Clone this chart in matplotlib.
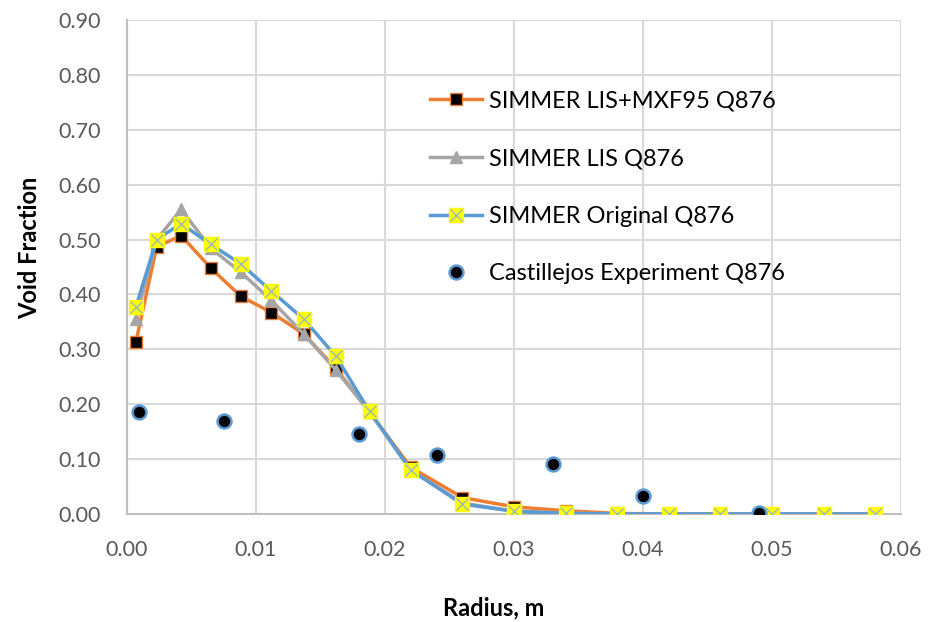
import matplotlib
matplotlib.use("Agg")
import matplotlib.pyplot as plt
from matplotlib.legend_handler import HandlerTuple
import numpy as np

plt.rcParams['font.family'] = ['Lato', 'DejaVu Sans']

# radius positions of the simulation cells
r_sim = [0.0007, 0.0023, 0.0042, 0.0065, 0.0088, 0.0112, 0.0137, 0.0162, 0.0188,
         0.022, 0.026, 0.030, 0.034, 0.038, 0.042, 0.046, 0.050, 0.054, 0.058]
lis_mxf = [0.314, 0.487, 0.507, 0.448, 0.397, 0.367, 0.328, 0.265, 0.186,
           0.085, 0.030, 0.013, 0.006, 0.001, 0.0, 0.0, 0.0, 0.0, 0.0]
lis = [0.356, 0.500, 0.555, 0.484, 0.441, 0.389, 0.328, 0.262, 0.186,
       0.080, 0.020, 0.005, 0.002, 0.0, 0.0, 0.0, 0.0, 0.0, 0.0]
original = [0.378, 0.500, 0.529, 0.491, 0.456, 0.406, 0.355, 0.287, 0.187,
            0.080, 0.018, 0.005, 0.001, 0.0, 0.0, 0.0, 0.0, 0.0, 0.0]

# experiment
r_exp = [0.0009, 0.0075, 0.0180, 0.0240, 0.0330, 0.0400, 0.0490]
exp = [0.185, 0.170, 0.146, 0.108, 0.091, 0.033, 0.002]

fig = plt.figure(figsize=(9.36, 6.22), dpi=100)
ax = fig.add_axes([127/936, 1 - 514/622, (901-127)/936, (514-20)/622])

grid_c = '#d9d9d9'
ax.set_axisbelow(True)
ax.grid(True, color=grid_c, lw=1.5)

l1, = ax.plot(r_sim, lis_mxf, color='#ED7D31', lw=2.5, marker='s', ms=8,
              mfc='black', mec='#ED7D31', mew=1, zorder=3)
l2, = ax.plot(r_sim, lis, color='#A5A5A5', lw=2.5, marker='^', ms=9,
              mfc='#A5A5A5', mec='#A5A5A5', zorder=4)
l3, = ax.plot(r_sim, original, color='#5B9BD5', lw=2.5, marker='s', ms=10,
              mfc='#FFFF00', mec='#FFFF00', zorder=5)
l3x, = ax.plot(r_sim, original, ls='none', marker='x', ms=9, mec='#8FB4C8', mew=0.9, zorder=6)
l4, = ax.plot(r_exp, exp, ls='none', marker='o', ms=10, mfc='black', mec='#5B9BD5',
              mew=1.8, zorder=7)

ax.set_xlim(0, 0.06)
ax.set_ylim(0, 0.9)
ax.set_xticks(np.arange(0, 0.061, 0.01))
ax.set_yticks(np.arange(0, 0.91, 0.1))
ax.set_xticklabels(['%.2f' % v for v in np.arange(0, 0.061, 0.01)])
ax.set_yticklabels(['%.2f' % v for v in np.arange(0, 0.91, 0.1)])
ax.tick_params(length=0, labelsize=15.5, colors='#595959')
ax.tick_params(axis='y', pad=19)
ax.tick_params(axis='x', pad=19)

for s in ['top', 'right']:
    ax.spines[s].set_visible(False)
for s in ['left', 'bottom']:
    ax.spines[s].set_color('#bfbfbf')
    ax.spines[s].set_linewidth(1.5)

ax.set_xlabel('Radius, m', fontsize=17, fontweight='bold')
ax.set_ylabel('Void Fraction', fontsize=17, fontweight='bold')
ax.xaxis.set_label_coords((494 - 127) / 774, (514 - 608) / 494)
ax.yaxis.set_label_coords((30 - 127) / 774, (514 - 248) / 494)
ax.xaxis.label.set_va('center')
ax.yaxis.label.set_va('center')

ax.legend([l1, l2, (l3, l3x), l4],
          ['SIMMER LIS+MXF95 Q876', 'SIMMER LIS Q876', 'SIMMER Original Q876',
           'Castillejos Experiment Q876'],
          handler_map={tuple: HandlerTuple(ndivide=1, pad=0)},
          loc='upper left', bbox_to_anchor=(0.364, 0.9), frameon=False,
          fontsize=17, labelspacing=1.55, handlelength=2.2, handletextpad=0.3)

fig.savefig('out.png', dpi=100)
